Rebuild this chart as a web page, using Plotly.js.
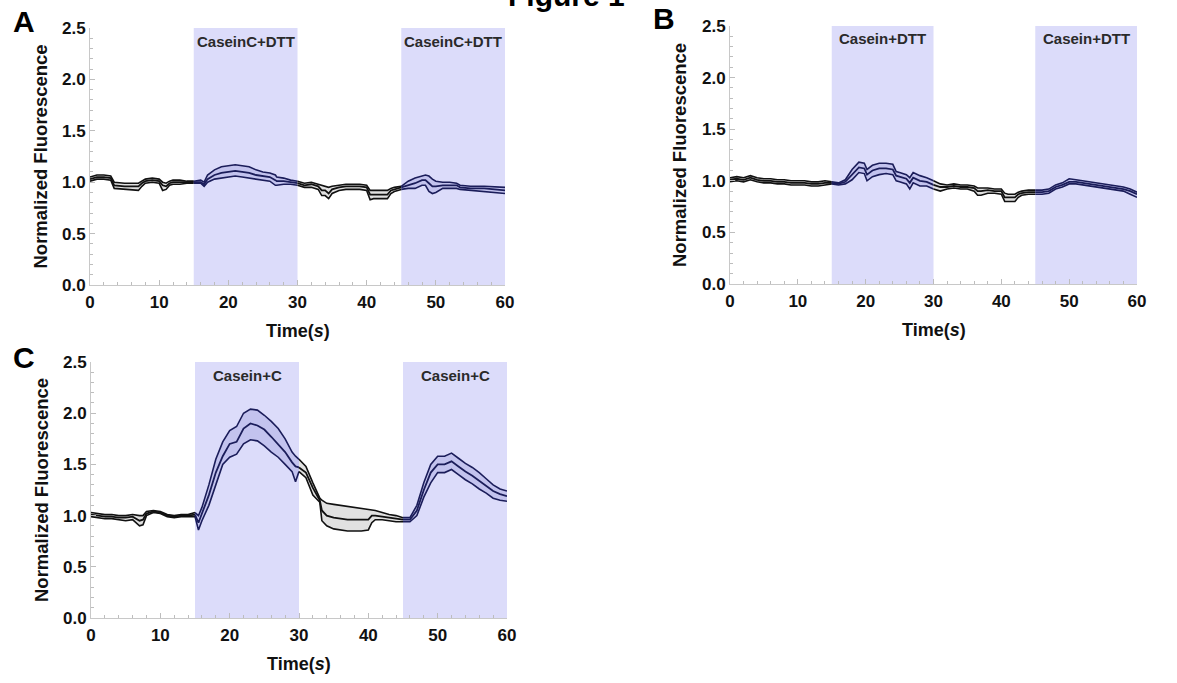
<!DOCTYPE html>
<html>
<head>
<meta charset="utf-8">
<script src="https://cdn.plot.ly/plotly-3.0.1.min.js"></script>
<style>html,body{margin:0;padding:0;background:#fff;}#chart{width:1177px;height:683px;}</style>
</head>
<body>
<div id="chart"></div>
<script>
// ---------- DATA ----------
const panelLabels = ["A", "B", "C"];
const windowLabels = ["CaseinC+DTT", "Casein+DTT", "Casein+C"];
const stimWindows = [[15, 30], [45, 60]];
const xTicks = [0, 10, 20, 30, 40, 50, 60];
const yTicks = [0, 0.5, 1.0, 1.5, 2.0, 2.5];

// Panel A : CaseinC+DTT
const tA = [0,1,2,3,3.5,5,7,7.5,8,9,10,10.5,11,11.5,12,13,14,15,16,16.5,17,18,19,20,21,22,23,24,25,26,26.8,27,28,29,30,31,32,33,33.5,34,34.5,35,36,37,38,39,40,40.5,41,42,43,43.5,44,45,46,47,48,48.5,49,49.5,50,51,52,53,53.5,55,57,59,60];
const meanA = [1.03,1.05,1.05,1.04,0.97,0.96,0.96,0.99,1.01,1.02,1.01,0.97,0.96,0.99,1.00,1.00,1.00,1.00,1.00,0.98,1.03,1.07,1.09,1.10,1.11,1.10,1.09,1.07,1.06,1.05,1.02,1.01,1.01,1.00,0.99,0.97,0.98,0.96,0.92,0.92,0.89,0.93,0.95,0.96,0.96,0.96,0.95,0.88,0.88,0.88,0.88,0.92,0.93,0.95,0.97,0.99,1.02,1.02,0.99,0.96,0.96,0.97,0.97,0.97,0.95,0.94,0.94,0.93,0.92];
const hiA =   [1.05,1.07,1.07,1.06,1.00,0.99,0.99,1.01,1.03,1.04,1.03,1.00,0.99,1.01,1.02,1.02,1.01,1.01,1.02,1.00,1.07,1.12,1.15,1.16,1.17,1.16,1.15,1.12,1.10,1.09,1.07,1.05,1.04,1.02,1.01,0.99,1.00,0.98,0.97,0.96,0.95,0.96,0.97,0.98,0.98,0.98,0.97,0.92,0.92,0.92,0.92,0.94,0.95,0.96,1.01,1.04,1.06,1.07,1.06,1.03,1.01,1.00,1.00,0.99,0.97,0.96,0.96,0.95,0.95];
const loA =   [1.01,1.03,1.03,1.02,0.94,0.93,0.92,0.96,0.99,1.00,0.99,0.92,0.93,0.97,0.98,0.98,0.99,0.99,0.99,0.96,1.00,1.03,1.04,1.05,1.06,1.05,1.04,1.03,1.02,1.01,0.97,0.97,0.98,0.98,0.97,0.95,0.95,0.93,0.87,0.87,0.84,0.89,0.92,0.93,0.93,0.93,0.92,0.83,0.84,0.84,0.84,0.89,0.91,0.93,0.94,0.94,0.97,0.97,0.91,0.89,0.90,0.94,0.94,0.94,0.93,0.92,0.91,0.90,0.89];

// Panel B : Casein+DTT
const tB = [0,1,2,3,4,5,6,7,8,9,10,11,12,13,14,15,16,17,18,19,19.8,20.2,21,22,23,24,24.5,25,26,26.5,27,28,29,30,31,32,33,34,35,36,36.5,37,38,39,40,40.5,41,42,42.5,43,44,45,46,47,48,49,50,51,52,53,54,55,56,57,58,59,60];
const meanB = [1.01,1.02,1.01,1.03,1.01,1.00,1.00,0.99,0.99,0.98,0.98,0.98,0.97,0.97,0.98,0.98,0.97,0.99,1.06,1.13,1.12,1.06,1.10,1.12,1.12,1.11,1.05,1.04,1.02,0.98,1.03,1.00,0.99,0.96,0.94,0.94,0.95,0.94,0.94,0.93,0.90,0.90,0.91,0.90,0.90,0.84,0.84,0.84,0.87,0.88,0.89,0.89,0.89,0.90,0.94,0.96,0.99,0.99,0.98,0.97,0.96,0.95,0.94,0.93,0.92,0.90,0.87];
const hiB =   [1.03,1.04,1.03,1.05,1.03,1.02,1.02,1.01,1.01,1.00,1.00,1.00,0.99,0.99,1.00,0.99,0.98,1.01,1.11,1.18,1.17,1.11,1.15,1.17,1.17,1.16,1.09,1.08,1.06,1.03,1.08,1.05,1.03,1.00,0.97,0.96,0.97,0.96,0.96,0.95,0.93,0.93,0.93,0.92,0.92,0.88,0.87,0.87,0.89,0.90,0.91,0.91,0.91,0.92,0.96,0.98,1.02,1.01,1.00,0.99,0.98,0.97,0.96,0.95,0.94,0.92,0.89];
const loB =   [0.99,1.00,0.99,1.01,0.99,0.98,0.98,0.97,0.97,0.96,0.96,0.96,0.95,0.95,0.96,0.97,0.96,0.97,1.01,1.08,1.07,1.00,1.04,1.06,1.07,1.06,1.00,0.99,0.97,0.92,0.98,0.95,0.95,0.92,0.90,0.92,0.93,0.92,0.92,0.90,0.86,0.86,0.88,0.88,0.87,0.80,0.80,0.80,0.84,0.86,0.87,0.87,0.87,0.88,0.92,0.94,0.97,0.97,0.96,0.95,0.94,0.93,0.92,0.91,0.90,0.87,0.84];

// Panel C : Casein+C
const tC = [0,1,2,3,4,5,6,7,7.5,8,9,10,11,12,13,14,15,15.5,16,17,18,19,20,21,22,23,24,25,26,27,28,29,29.5,30,31,32,33,33.3,34,35,36,37,38,39,40,40.5,41,42,43,44,45,46,47,48,49,50,51,52,53,54,55,56,57,58,59,60];
const meanC = [1.01,1.00,0.99,0.99,0.98,0.98,0.99,0.95,0.96,1.02,1.04,1.03,1.00,0.99,1.00,1.00,1.01,0.93,1.02,1.20,1.42,1.58,1.70,1.72,1.85,1.90,1.88,1.84,1.77,1.70,1.62,1.52,1.48,1.47,1.42,1.27,1.15,1.05,1.00,0.98,0.97,0.96,0.96,0.96,0.96,1.00,1.00,0.99,0.98,0.97,0.96,0.96,1.05,1.25,1.42,1.50,1.50,1.53,1.48,1.43,1.39,1.34,1.29,1.24,1.21,1.19];
const hiC =   [1.03,1.02,1.01,1.01,1.00,1.00,1.01,1.00,1.00,1.04,1.05,1.04,1.01,1.00,1.01,1.01,1.03,1.00,1.08,1.30,1.55,1.72,1.83,1.87,2.00,2.04,2.03,1.98,1.92,1.85,1.75,1.62,1.58,1.55,1.48,1.32,1.17,1.15,1.12,1.11,1.10,1.09,1.08,1.07,1.06,1.06,1.05,1.03,1.01,1.00,0.98,0.98,1.10,1.32,1.50,1.58,1.58,1.61,1.56,1.51,1.47,1.42,1.36,1.30,1.26,1.24];
const loC =   [0.99,0.98,0.97,0.97,0.96,0.95,0.96,0.90,0.91,1.00,1.03,1.02,0.99,0.98,0.99,0.99,0.99,0.86,0.95,1.10,1.30,1.50,1.57,1.60,1.70,1.74,1.73,1.68,1.62,1.57,1.50,1.43,1.33,1.43,1.37,1.20,1.13,0.95,0.90,0.87,0.86,0.85,0.85,0.85,0.86,0.93,0.96,0.96,0.95,0.94,0.94,0.94,1.00,1.18,1.32,1.42,1.42,1.45,1.40,1.35,1.31,1.26,1.22,1.17,1.15,1.14];

// ---------- STYLE / LAYOUT ----------
const W = 1177, H = 683;
const FONT = "Liberation Sans, Arial, Helvetica, sans-serif";
const px = x => x / W;
const py = y => 1 - y / H;

// plot boxes in pixels [x0, x1, yTop, yBottom]
const boxes = [
  [90, 505, 28, 285],
  [730, 1137, 26, 284],
  [91, 507, 362, 618]
];

const stimLine = "#1b1d5a", restLine = "#111111";
const stimFill = "rgba(150,150,215,0.35)", restFill = "rgba(205,205,205,0.6)";
const shade = "#dcdcfa";

const panels = [
  [tA, loA, meanA, hiA],
  [tB, loB, meanB, hiB],
  [tC, loC, meanC, hiC]
];

const segs = [[0, 15, false], [15, 30, true], [30, 45, false], [45, 60, true]];
const traces = [];
panels.forEach((p, i) => {
  const [t, lo, mid, hi] = p;
  const xa = i === 0 ? "x" : "x" + (i + 1);
  const ya = i === 0 ? "y" : "y" + (i + 1);
  segs.forEach(([a, b, stim]) => {
    const idx = t.map((v, k) => k).filter(k => t[k] >= a && t[k] <= b);
    const xs = idx.map(k => t[k]);
    const col = stim ? stimLine : restLine;
    const base = {type: "scatter", mode: "lines", xaxis: xa, yaxis: ya, showlegend: false, hoverinfo: "skip"};
    traces.push(Object.assign({}, base, {x: xs, y: idx.map(k => lo[k]), line: {color: col, width: 1.6}}));
    traces.push(Object.assign({}, base, {x: xs, y: idx.map(k => hi[k]), line: {color: col, width: 1.6}, fill: "tonexty", fillcolor: stim ? stimFill : restFill}));
    traces.push(Object.assign({}, base, {x: xs, y: idx.map(k => mid[k]), line: {color: col, width: 1.8}}));
  });
});

const tickFont = {family: FONT, size: 17, color: "#111", weight: "bold"};
function xAxis(i) {
  const b = boxes[i];
  return {
    domain: [px(b[0]), px(b[1])], range: [0, 60], anchor: i === 0 ? "y" : "y" + (i + 1),
    tickvals: xTicks, ticks: "inside", ticklen: 5, tickcolor: "#bdbdbd", tickwidth: 1,
    minor: {dtick: 2, tick0: 0, ticks: "inside", ticklen: 3, tickcolor: "#bdbdbd"},
    showline: true, linecolor: "#c8c8c8", linewidth: 1, showgrid: false, zeroline: false,
    tickfont: tickFont, fixedrange: true, ticklabelstandoff: 2
  };
}
function yAxis(i) {
  const b = boxes[i];
  return {
    domain: [py(b[3]), py(b[2])], range: [0, 2.5], anchor: i === 0 ? "x" : "x" + (i + 1),
    tickvals: yTicks, tickformat: ".1f", ticks: "inside", ticklen: 5, tickcolor: "#bdbdbd", tickwidth: 1,
    minor: {dtick: 0.1, tick0: 0, ticks: "inside", ticklen: 3, tickcolor: "#bdbdbd"},
    showline: true, linecolor: "#c8c8c8", linewidth: 1, showgrid: false, zeroline: false,
    tickfont: tickFont, fixedrange: true
  };
}

const shapes = [];
const annotations = [];
boxes.forEach((b, i) => {
  const xa = i === 0 ? "x" : "x" + (i + 1);
  const ya = i === 0 ? "y" : "y" + (i + 1);
  stimWindows.forEach(([a, c]) => {
    shapes.push({type: "rect", xref: xa, yref: ya, x0: a, x1: c, y0: 0, y1: 2.5,
      fillcolor: shade, line: {width: 0}, layer: "below"});
    annotations.push({xref: xa, yref: "paper", x: (a + c) / 2, y: py(b[2] + 13),
      xanchor: "center", yanchor: "middle",
      text: windowLabels[i], showarrow: false,
      font: {family: FONT, size: 15, color: "#2a2a2a", weight: "bold"}});
  });
  // axis titles
  annotations.push({xref: "paper", yref: "paper", x: px(b[0] - 50), y: py((b[2] + b[3]) / 2),
    xanchor: "center", yanchor: "middle",
    text: "Normalized Fluorescence", textangle: -90, showarrow: false,
    font: {family: FONT, size: 18.5, color: "#111", weight: "bold"}});
  annotations.push({xref: "paper", yref: "paper", x: px((b[0] + b[1]) / 2), y: py(b[3] + 46),
    xanchor: "center", yanchor: "middle",
    text: "Time(<i>s</i>)", showarrow: false,
    font: {family: FONT, size: 18, color: "#111", weight: "bold"}});
});
// panel letters
const letterPos = [[24, 22], [664, 18], [24, 357]];
panelLabels.forEach((l, i) => {
  annotations.push({xref: "paper", yref: "paper", x: px(letterPos[i][0]), y: py(letterPos[i][1]),
    text: l, showarrow: false, xanchor: "center", yanchor: "middle",
    font: {family: FONT, size: 30, color: "#000", weight: "bold"}});
});
// figure title (cut off at the top, as in the source figure)
annotations.push({xref: "paper", yref: "paper", x: px(566), y: py(14), xanchor: "center", yanchor: "bottom",
  text: "Figure 1", showarrow: false,
  font: {family: FONT, size: 30, color: "#000", weight: "bold"}});

const layout = {
  width: W, height: H, margin: {l: 0, r: 0, t: 0, b: 0},
  paper_bgcolor: "#fff", plot_bgcolor: "rgba(0,0,0,0)",
  showlegend: false,
  xaxis: xAxis(0), yaxis: yAxis(0),
  xaxis2: xAxis(1), yaxis2: yAxis(1),
  xaxis3: xAxis(2), yaxis3: yAxis(2),
  shapes: shapes, annotations: annotations
};

Plotly.newPlot("chart", traces, layout, {displayModeBar: false, staticPlot: true});
</script>
</body>
</html>
